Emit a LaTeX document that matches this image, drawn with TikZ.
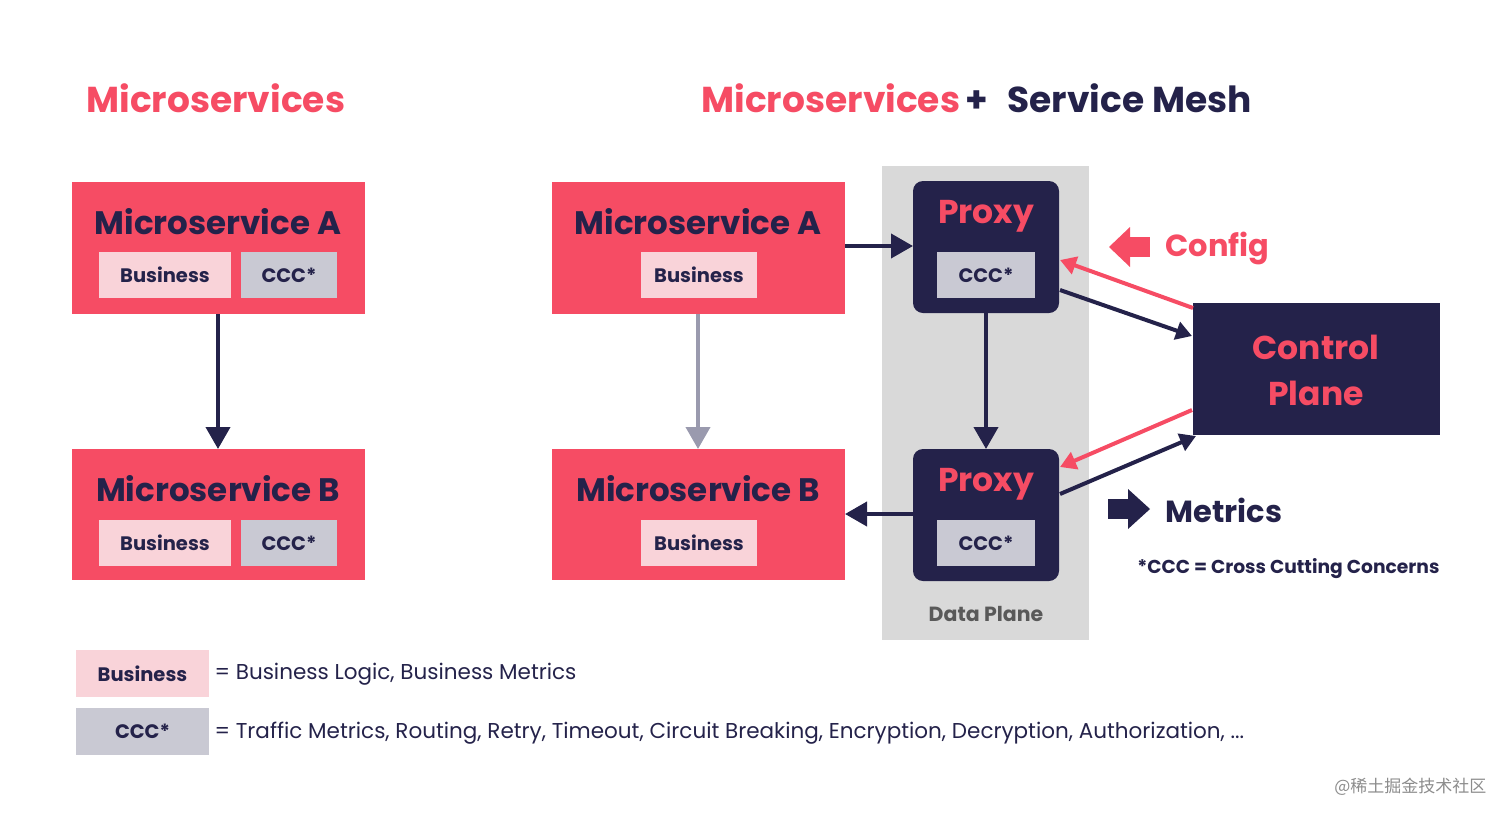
\documentclass[tikz,border=0pt]{standalone}
\usepackage{fontspec}
\setmainfont{Poppins}
\newfontfamily\cjk{Noto Sans CJK SC}
\usetikzlibrary{arrows.meta}
\definecolor{myred}{HTML}{F64C64}
\definecolor{navy}{HTML}{24224A}
\definecolor{bpink}{HTML}{F9D3D9}
\definecolor{cgrey}{HTML}{C9C9D3}
\definecolor{dgrey}{HTML}{D9D9D9}
\definecolor{agrey}{HTML}{9A9AAE}
\begin{document}
\begin{tikzpicture}[x=1pt,y=-1pt,
  ms/.style={fill=myred,draw=none},
  mstext/.style={text=navy,font=\fontsize{32.5}{36}\selectfont\bfseries},
  biz/.style={fill=bpink,draw=none},
  ccc/.style={fill=cgrey,draw=none},
  small/.style={text=navy,font=\fontsize{19.5}{22}\selectfont\bfseries},
  proxy/.style={fill=navy,rounded corners=10pt,draw=none},
  arr/.style={line width=4pt,-{Triangle[length=22pt,width=24pt]},navy},
  thin/.style={line width=4pt,-{Triangle[length=16pt,width=18pt]}},
  title/.style={font=\fontsize{36}{40}\selectfont\bfseries,anchor=base west}]
\useasboundingbox (0,0) rectangle (1512,820);
% titles
\node[title,text=myred] (t1) at (83,112) {Microservices};
\node[title,text=myred] (t2) at (698,112) {Microservices};
\node[title,text=navy] (t3) at (962,112) {+};
\node[title,text=navy] (t4) at (1004,112) {Service Mesh};
% left
\fill[ms] (72,182) rectangle (365,314);
\node[mstext] (la) at (218,222) {Microservice A};
\node[biz,minimum width=132pt,minimum height=46pt,small] (lab) at (165,275) {Business};
\node[ccc,minimum width=96pt,minimum height=46pt,small] (lac) at (289,275) {CCC*};
\fill[ms] (72,449) rectangle (365,580);
\node[mstext] (lb) at (218,489) {Microservice B};
\node[biz,minimum width=132pt,minimum height=46pt,small] (lbb) at (165,543) {Business};
\node[ccc,minimum width=96pt,minimum height=46pt,small] (lbc) at (289,543) {CCC*};
\coordinate (l1) at (218,314); \coordinate (l2) at (218,449);
\draw[arr] (l1) -- (l2);
% right
\fill[dgrey] (882,166) rectangle (1089,640);
\node[text=black!65,font=\fontsize{20.5}{24}\selectfont\bfseries] (dp) at (986,614) {Data Plane};
\fill[ms] (552,182) rectangle (845,314);
\node[mstext] (ra) at (698,222) {Microservice A};
\node[biz,minimum width=116pt,minimum height=46pt,small] (rab) at (699,275) {Business};
\fill[ms] (552,449) rectangle (845,580);
\node[mstext] (rb) at (698,489) {Microservice B};
\node[biz,minimum width=116pt,minimum height=46pt,small] (rbb) at (699,543) {Business};
\coordinate (g1) at (698,314); \coordinate (g2) at (698,449);
\draw[arr,agrey] (g1) -- (g2);
\fill[proxy] (913,181) rectangle (1059,313);
\node[text=myred,font=\fontsize{33}{36}\selectfont\bfseries] (p1) at (986,216) {Proxy};
\node[ccc,minimum width=98pt,minimum height=46pt,small] (p1c) at (986,275) {CCC*};
\fill[proxy] (913,449) rectangle (1059,581);
\node[text=myred,font=\fontsize{33}{36}\selectfont\bfseries] (p2) at (986,484) {Proxy};
\node[ccc,minimum width=98pt,minimum height=46pt,small] (p2c) at (986,543) {CCC*};
\coordinate (a1) at (845,246); \coordinate (a2) at (913,246);
\draw[arr] (a1) -- (a2);
\coordinate (v1) at (986,313); \coordinate (v2) at (986,449);
\draw[arr] (v1) -- (v2);
\coordinate (b1) at (913,514); \coordinate (b2) at (845,514);
\draw[arr] (b1) -- (b2);
% control plane
\fill[navy] (1193,303) rectangle (1440,435);
\node[text=myred,font=\fontsize{33}{46}\selectfont\bfseries,align=center] (cp) at (1316,370) {Control\\Plane};
\coordinate (c1) at (1193,308); \coordinate (c2) at (1060,260);
\draw[thin,myred] (c1) -- (c2);
\coordinate (c3) at (1060,290); \coordinate (c4) at (1192,336);
\draw[thin,navy] (c3) -- (c4);
\coordinate (c5) at (1192,410); \coordinate (c6) at (1060,467);
\draw[thin,myred] (c5) -- (c6);
\coordinate (c7) at (1060,494); \coordinate (c8) at (1196,436);
\draw[thin,navy] (c7) -- (c8);
% block arrows
\fill[myred] (1109,247) -- (1130,227) -- (1130,267) -- cycle;
\fill[myred] (1129,237) rectangle (1150,257);
\node[text=myred,font=\fontsize{30.5}{34}\selectfont\bfseries,anchor=west] (cfg) at (1162,248) {Config};
\fill[navy] (1150,509) -- (1128,489) -- (1128,529) -- cycle;
\fill[navy] (1108,499) rectangle (1130,519);
\node[text=navy,font=\fontsize{30.5}{34}\selectfont\bfseries,anchor=west] (met) at (1162,510) {Metrics};
\node[text=navy,font=\fontsize{18.7}{21}\selectfont\bfseries,anchor=east] (note) at (1443,569) {*CCC = Cross Cutting Concerns};
% legend
\node[biz,minimum width=133pt,minimum height=47pt,small] (lg1) at (142.5,673.5) {Business};
\node[text=navy,font=\fontsize{21.5}{24}\selectfont,anchor=west] (lt1) at (211,674) {= Business Logic, Business Metrics};
\node[ccc,minimum width=133pt,minimum height=47pt,small] (lg2) at (142.5,731.5) {CCC*};
\node[text=navy,font=\fontsize{21.5}{24}\selectfont,anchor=west] (lt2) at (211,733) {= Traffic Metrics, Routing, Retry, Timeout, Circuit Breaking, Encryption, Decryption, Authorization, ...};
\node[text=black!45,font=\cjk\fontsize{17}{20}\selectfont,anchor=east] (wm) at (1490,787) {@稀土掘金技术社区};
\end{tikzpicture}
\end{document}
